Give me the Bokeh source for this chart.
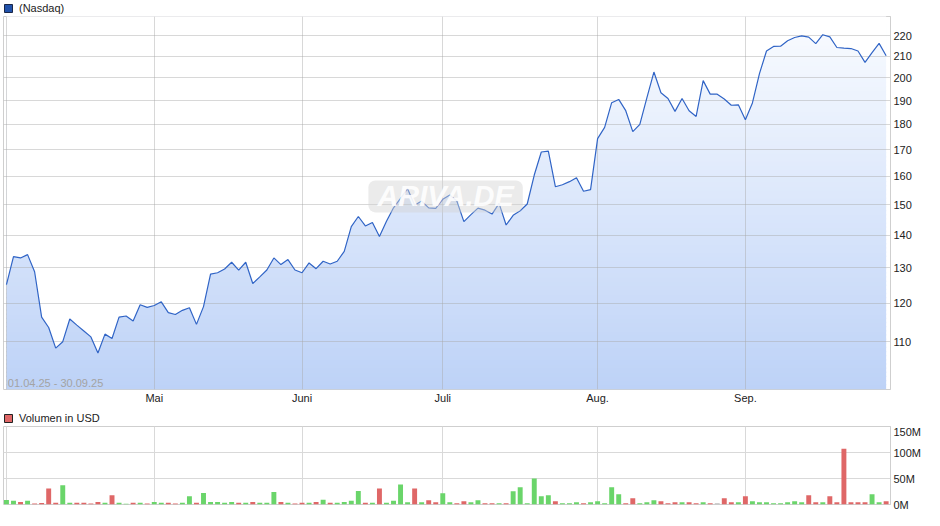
import numpy as np
from bokeh.plotting import figure
from bokeh.layouts import column
from bokeh.models import Range1d, FixedTicker, PrintfTickFormatter, Legend, LegendItem, Label
from bokeh.embed import file_html
from bokeh.resources import INLINE

# ---------------- data ----------------
series_name = "(Nasdaq)"
volume_name = "Volumen in USD"
date_span = "01.04.25 - 30.09.25"

prices = [
    125.2, 133.4, 133.0, 134.0, 128.9, 116.3, 113.6, 108.4, 110.0, 115.8,
    114.2, 112.7, 111.2, 107.2, 111.9, 110.8, 116.3, 116.6, 115.3, 119.6,
    118.9, 119.4, 120.4, 117.5, 117.0, 118.1, 118.8, 114.4, 119.1, 128.2,
    128.6, 129.7, 131.7, 129.4, 131.7, 125.5, 127.4, 129.4, 133.0, 131.0,
    132.5, 129.4, 128.6, 131.5, 129.8, 132.0, 131.2, 132.0, 135.0, 142.8,
    146.1, 143.0, 144.1, 139.6, 144.5, 149.0, 152.2, 155.6, 149.9, 151.3,
    149.0, 148.8, 151.9, 153.4, 151.3, 144.4, 146.7, 148.9, 148.2, 146.9,
    150.5, 143.3, 146.5, 148.0, 150.3, 160.5, 169.1, 169.4, 156.3, 157.0,
    158.1, 159.5, 154.7, 155.3, 174.3, 178.8, 189.1, 190.5, 185.7, 177.1,
    180.0, 191.2, 202.7, 193.4, 190.9, 185.4, 190.9, 185.7, 183.3, 198.8,
    192.8, 192.8, 190.7, 188.0, 188.2, 181.9, 189.0, 202.0, 212.6, 214.8,
    214.9, 217.6, 219.2, 220.0, 219.4, 216.2, 220.6, 219.5, 214.3, 214.0,
    213.8, 212.6, 207.2, 211.8, 216.3, 210.3,
]
prev_close = 124.0  # close before the first day (estimated)

volumes_m = [
    8.8, 7.0, 5.0, 7.0, 2.0, 3.0, 31.0, 3.5, 37.0, 3.5,
    3.5, 3.5, 2.0, 5.0, 3.5, 18.0, 3.5, 1.5, 3.5, 3.5,
    2.0, 5.0, 3.5, 3.5, 2.0, 3.5, 16.0, 3.5, 22.0, 5.0,
    5.0, 3.5, 5.0, 3.5, 3.5, 5.0, 3.5, 3.5, 24.0, 5.0,
    3.5, 2.0, 3.5, 3.5, 5.0, 9.0, 3.5, 3.5, 5.0, 7.0,
    26.0, 3.5, 3.5, 31.0, 3.5, 7.0, 38.6, 4.4, 31.0, 4.4,
    8.2, 4.4, 21.5, 4.4, 2.5, 6.3, 4.4, 8.2, 2.5, 2.5,
    2.5, 2.5, 25.3, 33.0, 2.5, 50.0, 15.8, 17.7, 6.3, 2.5,
    2.5, 4.4, 2.5, 4.4, 6.3, 2.5, 33.0, 19.6, 2.5, 12.0,
    2.5, 4.4, 8.2, 6.3, 2.5, 4.4, 4.4, 4.4, 2.5, 4.4,
    2.5, 2.5, 12.0, 4.4, 4.4, 15.8, 6.3, 4.4, 4.4, 2.5,
    2.5, 4.4, 6.3, 4.4, 17.7, 4.4, 4.4, 15.8, 4.4, 107.0,
    4.4, 4.4, 4.4, 19.6, 4.4, 6.3,
]

month_ticks = [21, 42, 62, 84, 105]
month_labels = ["Mai", "Juni", "Juli", "Aug.", "Sep."]
price_ticks = [110, 120, 130, 140, 150, 160, 170, 180, 190, 200, 210, 220]
volume_ticks = [0, 50, 100, 150]
volume_tick_labels = ["0M", "50M", "100M", "150M"]

# ---------------- styling ----------------
FONT = "Liberation Sans"
LINE_BLUE = "#3064c6"
GREEN = "#6ad56a"
RED = "#df6767"
GREY = "#bdbdbd"
GRID = "#d9d9d9"
OUTLINE = "#cfcfcf"
TEXT = "#222222"

idx = np.arange(len(prices))
p_arr = np.array(prices)
Y_MIN, Y_MAX = 98.7, 229.9
x_range = Range1d(-0.42, idx[-1] + 0.62)

W = 924
F1 = 373   # price frame height
F2 = 78    # volume frame height


def legend_strip(label, fill, line, height):
    """A thin figure holding only a legend row (legends inside a frame are not clipped)."""
    f = figure(width=W, height=height, x_range=Range1d(0, 1), y_range=Range1d(0, 1),
               x_axis_location=None, y_axis_location=None, toolbar_location=None,
               output_backend="svg", min_border_left=2, min_border_right=0,
               min_border_top=0, min_border_bottom=0)
    f.outline_line_color = None
    f.grid.visible = False
    f.background_fill_color = "white"
    f.border_fill_color = "white"
    # legend proxy: one box lying outside the visible range, so only its legend swatch shows
    r = f.quad(left=[2], right=[3], bottom=[2], top=[3], fill_color=fill, line_color=line)
    lg = Legend(items=[LegendItem(label=label, renderers=[r])], location=(0, 1),
                glyph_width=10, glyph_height=10, label_height=10, label_standoff=6,
                padding=0, margin=0, spacing=0, border_line_color=None,
                background_fill_alpha=0, label_text_font=FONT, label_text_font_size="11px",
                label_text_color=TEXT)
    f.add_layout(lg)
    return f


leg1 = legend_strip(series_name, "#2152ab", "#1a2748", 15)

p1 = figure(width=W, height=1 + F1 + 17, x_range=x_range, y_range=Range1d(Y_MIN, Y_MAX),
            y_axis_type="log", y_axis_location="right", toolbar_location=None,
            output_backend="svg", min_border_left=3, min_border_right=31,
            min_border_top=1, min_border_bottom=17)
p1.background_fill_color = "white"
p1.border_fill_color = "white"
p1.outline_line_color = OUTLINE

# gradient fill under the curve: horizontal colour bands masked above the line
nb = 90
edges = np.exp(np.linspace(np.log(Y_MIN), np.log(Y_MAX), nb + 1))
tt = (np.arange(nb) + 0.5) / nb
c0 = np.array([189, 210, 247])
c1 = np.array([250, 252, 255])
band_cols = ["#%02x%02x%02x" % tuple(int(round(v)) for v in (c0 + (c1 - c0) * t)) for t in tt]
bands = p1.quad(left=idx[0], right=idx[-1], bottom=edges[:-1], top=edges[1:] * 1.003,
                fill_color=band_cols, line_color=None)
bands.level = "image"
mask = p1.varea(x=idx, y1=p_arr, y2=Y_MAX, fill_color="white")
mask.level = "image"

p1.line(idx, p_arr, line_color=LINE_BLUE, line_width=1.2)

# grids
p1.xgrid.ticker = FixedTicker(ticks=[0] + month_ticks)
p1.xgrid.grid_line_color = "#a8a8a8"
p1.xgrid.grid_line_alpha = 0.45
p1.ygrid.grid_line_color = "#a8a8a8"
p1.ygrid.grid_line_alpha = 0.45

# axes
p1.yaxis.ticker = FixedTicker(ticks=price_ticks)
p1.yaxis.formatter = PrintfTickFormatter(format="%d")
p1.yaxis.major_tick_line_color = None
p1.yaxis.minor_tick_line_color = None
p1.yaxis.major_tick_out = 0
p1.yaxis.major_tick_in = 0
p1.yaxis.minor_tick_out = 0
p1.yaxis.axis_line_color = OUTLINE
p1.yaxis.major_label_standoff = 3
p1.yaxis.major_label_text_font = FONT
p1.yaxis.major_label_text_font_size = "11px"
p1.yaxis.major_label_text_color = TEXT

p1.xaxis.ticker = FixedTicker(ticks=month_ticks)
p1.xaxis.major_label_overrides = {t: l for t, l in zip(month_ticks, month_labels)}
p1.xaxis.major_tick_line_color = None
p1.xaxis.minor_tick_line_color = None
p1.xaxis.major_tick_out = 0
p1.xaxis.major_tick_in = 0
p1.xaxis.minor_tick_out = 0
p1.xaxis.axis_line_color = None
p1.xaxis.major_label_standoff = 2
p1.xaxis.major_label_text_font = FONT
p1.xaxis.major_label_text_font_size = "11px"
p1.xaxis.major_label_text_color = TEXT

# watermark and date span
wm = Label(x=62.4, y=152.9, text="ARIVA.DE", text_align="center", text_baseline="middle",
           text_font=FONT, text_font_size="29px", text_font_style="bold italic",
           text_color="white", text_alpha=0.9,
           background_fill_color="#d2d2d2", background_fill_alpha=0.45,
           padding=dict(left=9, right=9, top=0, bottom=0), border_radius=7)
p1.add_layout(wm)
dl = Label(x=0.2, y=100.2, text=date_span, text_align="left", text_baseline="middle",
           text_font=FONT, text_font_size="11px", text_color="#a3a3a3")
p1.add_layout(dl)

# ---------------- volume panel ----------------
leg2 = legend_strip(volume_name, RED, "#222222", 19)

prev = np.concatenate([[prev_close], p_arr[:-1]])
chg = np.sign(np.round(p_arr - prev, 4))
vol_cols = [GREEN if c > 0 else (RED if c < 0 else GREY) for c in chg]

p2 = figure(width=W, height=1 + F2 + 6, x_range=x_range, y_range=Range1d(0, 150),
            y_axis_location="right", x_axis_location=None, toolbar_location=None,
            output_backend="svg", min_border_left=3, min_border_right=31,
            min_border_top=1, min_border_bottom=6)
p2.background_fill_color = "white"
p2.border_fill_color = "white"
p2.outline_line_color = OUTLINE
p2.vbar(x=idx, top=volumes_m, width=0.7, fill_color=vol_cols, line_color=None)

p2.xgrid.ticker = FixedTicker(ticks=[0] + month_ticks)
p2.xgrid.grid_line_color = GRID
p2.ygrid.grid_line_color = GRID
p2.yaxis.ticker = FixedTicker(ticks=volume_ticks)
p2.yaxis.major_label_overrides = {t: l for t, l in zip(volume_ticks, volume_tick_labels)}
p2.yaxis.major_tick_line_color = None
p2.yaxis.minor_tick_line_color = None
p2.yaxis.major_tick_out = 0
p2.yaxis.major_tick_in = 0
p2.yaxis.minor_tick_out = 0
p2.yaxis.axis_line_color = OUTLINE
p2.yaxis.major_label_standoff = 3
p2.yaxis.major_label_text_font = FONT
p2.yaxis.major_label_text_font_size = "11px"
p2.yaxis.major_label_text_color = TEXT

layout = column(leg1, p1, leg2, p2)
open("out.html", "w").write(file_html(layout, INLINE))
